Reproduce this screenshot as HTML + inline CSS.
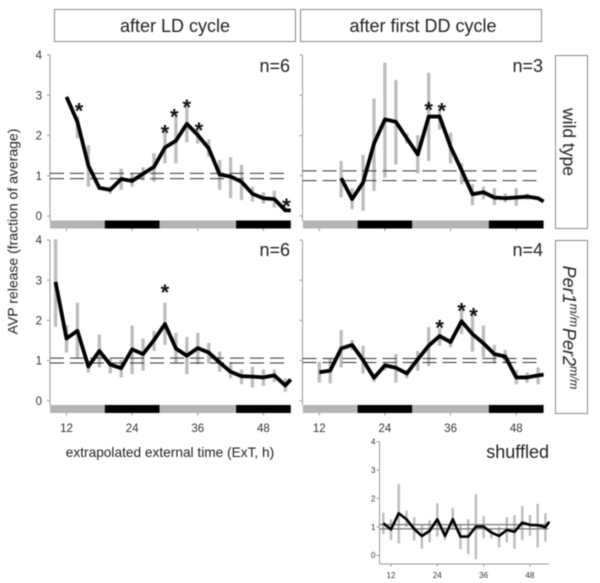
<!DOCTYPE html>
<html>
<head>
<meta charset="utf-8">
<title>AVP release chart</title>
<style>
html,body{margin:0;padding:0;background:#fff;width:600px;height:583px;overflow:hidden}
svg{display:block;font-family:"Liberation Sans",sans-serif;filter:blur(0.45px)}
</style>
</head>
<body>
<svg id="chart" xmlns="http://www.w3.org/2000/svg" width="600" height="583" viewBox="0 0 600 583">
  <rect x="54.5" y="9.5" width="241" height="32" fill="#fff" stroke="#8a8a8a"/>
  <text x="175" y="32" font-size="18" text-anchor="middle" fill="#222">after LD cycle</text>
  <rect x="300.5" y="9.5" width="241" height="32" fill="#fff" stroke="#8a8a8a"/>
  <text x="423" y="32" font-size="18" text-anchor="middle" fill="#222">after first DD cycle</text>
  <rect x="555.5" y="55.5" width="32" height="173" fill="#fff" stroke="#8a8a8a"/>
  <text transform="translate(563,142) rotate(90)" font-size="17.5" text-anchor="middle" fill="#222">wild type</text>
  <rect x="555.5" y="240.5" width="32" height="173" fill="#fff" stroke="#8a8a8a"/>
  <text transform="translate(563,327.5) rotate(90)" font-size="18" font-style="italic" text-anchor="middle" fill="#222">Per1<tspan font-size="12" dy="-7">m/m</tspan><tspan dy="7" dx="1">Per2</tspan><tspan font-size="12" dy="-7">m/m</tspan></text>
  <text transform="translate(17.5,231.5) rotate(-90)" font-size="14" text-anchor="middle" fill="#222">AVP release (fraction of average)</text>
  <text x="170" y="457" font-size="13.7" text-anchor="middle" fill="#222">extrapolated external time (ExT, h)</text>
  <text x="290" y="72" font-size="18" text-anchor="end" fill="#222">n=6</text>
  <text x="543" y="72" font-size="18" text-anchor="end" fill="#222">n=3</text>
  <text x="290" y="256" font-size="18" text-anchor="end" fill="#222">n=6</text>
  <text x="543" y="256" font-size="18" text-anchor="end" fill="#222">n=4</text>
  <text x="549" y="458" font-size="18" text-anchor="end" fill="#222">shuffled</text>
</svg>
<script>
// Shared axis data
const yTicks = [0, 1, 2, 3, 4];
const xTicks = [12, 24, 36, 48];
const lightEdges = [9, 19, 29, 43, 53];

// Wild type, after LD cycle
const wtLdHours = [12,14,16,18,20,22,24,26,28,30,32,34,36,38,40,42,44,46,48,50,52,53];
const wtLdMean = [2.96,2.34,1.25,0.7,0.65,0.92,0.87,1.05,1.22,1.7,1.87,2.29,2.01,1.68,1.03,0.98,0.85,0.55,0.44,0.42,0.14,0.14];
const wtLdLow = [2.96,1.93,0.73,0.65,0.55,0.65,0.73,0.88,0.85,1.31,1.31,1.83,1.8,1.47,0.65,0.44,0.4,0.36,0.31,0.21,0.1,0.14];
const wtLdHigh = [2.96,2.48,1.76,0.75,0.73,1.18,1.06,1.21,1.56,2.1,2.47,2.72,2.14,1.9,1.39,1.46,1.27,0.73,0.59,0.63,0.23,0.14];
const wtLdStarHours = [14.3,30,31.7,34,36.2,52.2];
const wtLdStarValues = [2.73,2.19,2.59,2.82,2.25,0.36];
const wtLdBands = [0.93,1.06];

// Wild type, after first DD cycle
const wtDdHours = [16,18,20,22,24,26,28,30,32,34,36,38,40,42,44,46,48,50,52,53];
const wtDdMean = [0.94,0.42,0.83,1.8,2.4,2.34,1.93,1.53,2.47,2.47,1.72,1.14,0.54,0.59,0.46,0.44,0.46,0.48,0.44,0.36];
const wtDdLow = [0.46,0.17,0.13,0.62,0.95,1.28,1.8,1.06,1.37,2.15,1.31,0.79,0.27,0.42,0.27,0.34,0.25,0.4,0.44,0.36];
const wtDdHigh = [1.37,0.69,1.52,2.92,3.81,3.38,2.05,2.01,3.56,2.67,2.07,1.31,0.79,0.73,0.69,0.56,0.69,0.56,0.44,0.36];
const wtDdStarHours = [32,34.4];
const wtDdStarValues = [2.76,2.73];
const wtDdBands = [0.88,1.12];

// Per1/Per2 mutant, after LD cycle
const perLdHours = [10,12,14,16,18,20,22,24,26,28,30,32,34,36,38,40,42,44,46,48,50,52,53];
const perLdMean = [2.96,1.55,1.74,0.85,1.24,0.9,0.81,1.28,1.16,1.51,1.91,1.3,1.12,1.31,1.2,0.95,0.72,0.61,0.6,0.58,0.63,0.38,0.53];
const perLdLow = [1.84,1.2,1.05,0.7,0.83,0.68,0.58,0.66,0.75,1.24,1.39,0.93,0.66,0.91,0.93,0.72,0.56,0.41,0.33,0.37,0.47,0.22,0.53];
const perLdHigh = [4.02,1.88,2.44,1.01,1.65,1.05,1.01,1.87,1.55,1.74,2.44,1.69,1.59,1.69,1.44,1.22,0.97,0.78,0.85,0.78,0.78,0.56,0.53];
const perLdStarHours = [30];
const perLdStarValues = [2.82];
const perLdBands = [0.94,1.06];

// Per1/Per2 mutant, after first DD cycle
const perDdHours = [12,14,16,18,20,22,24,26,28,30,32,34,36,38,40,42,44,46,48,50,52,53];
const perDdMean = [0.71,0.75,1.3,1.39,1.01,0.57,0.88,0.82,0.68,1.03,1.37,1.61,1.46,1.98,1.66,1.43,1.16,1.1,0.58,0.58,0.63,0.65];
const perDdLow = [0.45,0.43,0.83,1.26,0.68,0.47,0.76,0.45,0.56,0.75,0.86,1.37,1.33,1.66,1.22,1.08,0.93,0.93,0.41,0.45,0.41,0.65];
const perDdHigh = [0.97,1.05,1.76,1.51,1.37,0.68,0.93,1.16,0.76,1.24,1.83,1.8,1.55,2.26,2.17,1.87,1.39,1.26,0.76,0.7,0.83,0.65];
const perDdStarHours = [34,38,40.2];
const perDdStarValues = [1.94,2.36,2.24];
const perDdBands = [0.95,1.05];

// Shuffled control
const shufHours = [10,12,14,16,18,20,22,24,26,28,30,32,34,36,38,40,42,44,46,48,50,52,53];
const shufMean = [1.13,0.91,1.48,1.27,0.93,0.68,0.86,1.27,0.68,1.27,0.66,0.66,1.01,1.01,0.8,0.68,0.89,0.83,1.15,1.07,1.06,0.99,1.18];
const shufLow = [0.75,0.54,0.42,1.0,0.52,0.23,0.46,0.66,0.55,0.89,0.21,0.04,-0.14,0.6,0.6,0.28,0.45,0.23,0.54,0.68,0.28,0.48,1.18];
const shufHigh = [1.5,1.27,2.51,1.57,1.34,1.1,1.24,1.83,1.0,1.67,1.07,1.27,2.15,1.38,0.95,1.0,1.34,1.41,1.74,1.42,1.81,1.48,1.18];
const shufBands = [0.93,1.08];

const svg = document.getElementById('chart');
const NS = 'http://www.w3.org/2000/svg';

function make(tag, attrs) {
  const el = document.createElementNS(NS, tag);
  for (const k in attrs) el.setAttribute(k, attrs[k]);
  svg.appendChild(el);
  return el;
}

function drawPanel(p) {
  const xScale = h => p.x12 + (h - 12) * p.pxPerHour;
  const yScale = v => p.y0 - v * p.pxPerUnit;

  const yAxis = make('line', {x1: p.axisX, x2: p.axisX, y1: yScale(4), y2: p.axisBottom, stroke: '#999', 'stroke-width': 1});
  
  

  yTicks.forEach(t => {
    const tick = make('line', {x1: p.axisX - 3, x2: p.axisX, y1: yScale(t), y2: yScale(t), stroke: '#999', 'stroke-width': 1});
    
    
    if (p.showY) {
      const label = make('text', {x: p.axisX - p.yLabelGap, y: yScale(t) + p.tickFont * 0.36, 'font-size': p.tickFont, 'text-anchor': 'end', fill: '#333'});
      label.textContent = t;
      
      
    }
  });

  if (p.strip) {
    lightEdges.slice(0, -1).forEach((edge, i) => {
      const seg = make('rect', {x: xScale(edge), y: p.stripTop, width: xScale(lightEdges[i + 1]) - xScale(edge), height: p.stripHeight, fill: i % 2 ? '#000' : '#b4b4b4'});
      
      
    });
  } else {
    const xAxis = make('line', {x1: p.axisX, x2: xScale(53), y1: p.axisBottom, y2: p.axisBottom, stroke: '#999', 'stroke-width': 1});
    
    
  }

  const tickTop = p.strip ? p.stripTop + p.stripHeight : p.axisBottom;
  xTicks.forEach(t => {
    const tick = make('line', {x1: xScale(t), x2: xScale(t), y1: tickTop, y2: tickTop + 2.5, stroke: '#999', 'stroke-width': 1});
    
    
    if (p.showX) {
      const label = make('text', {x: xScale(t), y: p.xLabelY, 'font-size': p.tickFont, 'text-anchor': 'middle', fill: '#333'});
      label.textContent = t;
      
      
    }
  });

  p.hours.forEach((h, i) => {
    if (p.high[i] === p.low[i]) return;
    const bar = make('line', {x1: xScale(h), x2: xScale(h), y1: yScale(p.low[i]), y2: yScale(p.high[i]), stroke: '#bcbcbc', 'stroke-width': p.barWidth});
    
    
  });

  p.bands.forEach(v => {
    const attrs = {x1: p.axisX, x2: xScale(53) - 1, y1: yScale(v), y2: yScale(v), stroke: p.bandColor, 'stroke-width': p.bandWidth || 1};
    if (p.dash) attrs['stroke-dasharray'] = p.dash;
    const band = make('line', attrs);
    
    
  });

  const trace = make('polyline', {points: p.hours.map((h, i) => xScale(h) + ',' + yScale(p.mean[i])).join(' '), fill: 'none', stroke: '#000', 'stroke-width': p.lineWidth, 'stroke-linejoin': 'round'});
  
  

  (p.starHours || []).forEach((h, i) => {
    const star = make('text', {x: xScale(h), y: yScale(p.starValues[i]) + 12.5, 'font-size': 22, 'font-weight': 'bold', 'text-anchor': 'middle', fill: '#111'});
    star.textContent = '*';
    
    
  });
}

const big = {pxPerHour: 5.47, pxPerUnit: 40.25, tickFont: 11.5, barWidth: 3.3, lineWidth: 3.8, strip: true, stripHeight: 8, bandColor: '#333', dash: '14 6', yLabelGap: 8, showX: false, showY: false};

drawPanel(Object.assign({}, big, {id: 'wt-ld', x12: 66.5, axisX: 50, y0: 216, axisBottom: 221, stripTop: 220.5, showY: true,
  hours: wtLdHours, mean: wtLdMean, low: wtLdLow, high: wtLdHigh, bands: wtLdBands, starHours: wtLdStarHours, starValues: wtLdStarValues}));
drawPanel(Object.assign({}, big, {id: 'wt-dd', x12: 319.3, axisX: 302.5, y0: 216, axisBottom: 221, stripTop: 220.5,
  hours: wtDdHours, mean: wtDdMean, low: wtDdLow, high: wtDdHigh, bands: wtDdBands, starHours: wtDdStarHours, starValues: wtDdStarValues}));
drawPanel(Object.assign({}, big, {id: 'per-ld', x12: 66.5, axisX: 50, y0: 400.7, pxPerUnit: 40.15, axisBottom: 405, stripTop: 405, showY: true, showX: true, xLabelY: 432,
  hours: perLdHours, mean: perLdMean, low: perLdLow, high: perLdHigh, bands: perLdBands, starHours: perLdStarHours, starValues: perLdStarValues}));
drawPanel(Object.assign({}, big, {id: 'per-dd', x12: 319.3, axisX: 302.5, y0: 400.7, pxPerUnit: 40.15, axisBottom: 405, stripTop: 405, showX: true, xLabelY: 432,
  hours: perDdHours, mean: perDdMean, low: perDdLow, high: perDdHigh, bands: perDdBands, starHours: perDdStarHours, starValues: perDdStarValues}));
drawPanel({id: 'shuffled', x12: 391, pxPerHour: 3.86, y0: 555.3, pxPerUnit: 28.4, axisX: 379.5, axisBottom: 564, strip: false, showX: true, showY: true, xLabelY: 578, tickFont: 8, yLabelGap: 4, barWidth: 2.4, lineWidth: 2.6, bandColor: '#777', bandWidth: 1.3,
  hours: shufHours, mean: shufMean, low: shufLow, high: shufHigh, bands: shufBands});
</script>
</body>
</html>
